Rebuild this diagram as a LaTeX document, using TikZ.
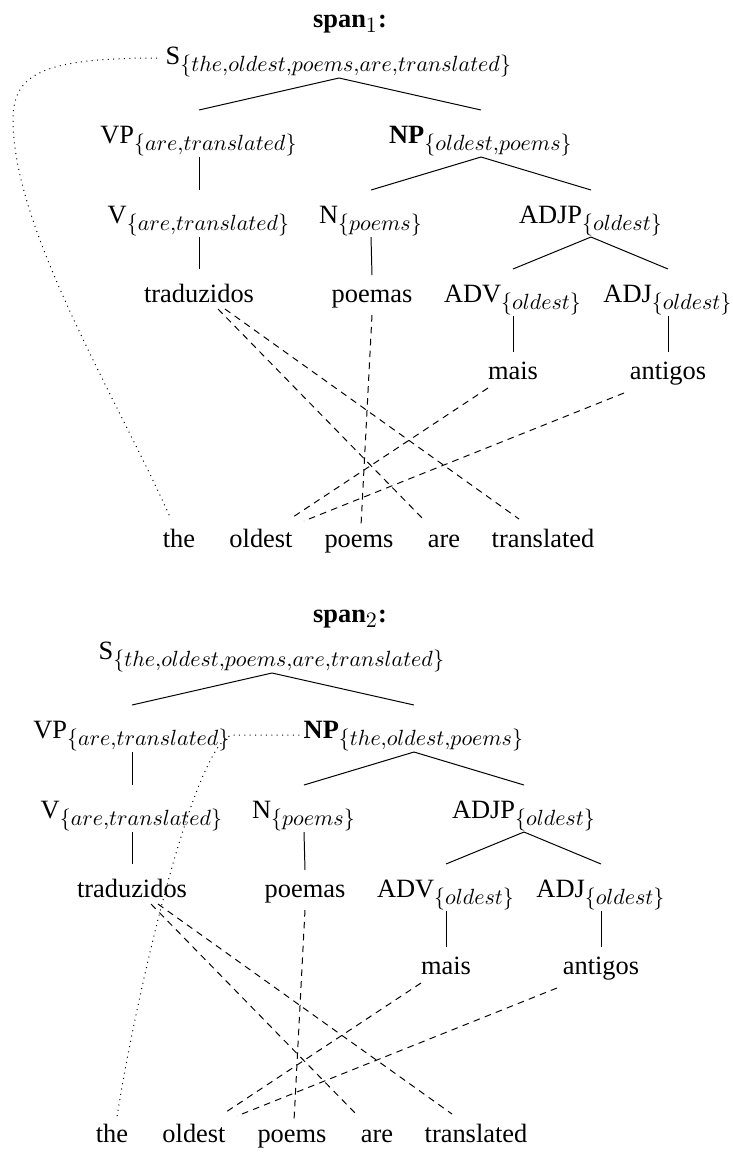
\documentclass[tikz,border=0pt]{standalone}
\usepackage[no-math]{fontspec}
\setmainfont{Liberation Serif}
\usetikzlibrary{calc}
\DeclareMathSizes{12}{12}{10}{7}

% one span tree: #1 = name suffix, #2 = yield of the NP node
\newcommand\treenodes[2]{%
  \node[lab] (S#1)       at (339,64)  {S$_{\{the,oldest,poems,are,translated\}}$};
  \node[lab] (VP#1)      at (199,143) {VP$_{\{are,translated\}}$};
  \node[lab] (NP#1)      at (481,143) {\textbf{NP}$_{\{#2\}}$};
  \node[lab] (V#1)       at (199,223) {V$_{\{are,translated\}}$};
  \node[lab] (N#1)       at (371,223) {N$_{\{poems\}}$};
  \node[lab] (ADJP#1)    at (591,223) {ADJP$_{\{oldest\}}$};
  \node[lab] (trad#1)    at (199,302) {traduzidos};
  \node[lab] (poemas#1)  at (372,302) {poemas};
  \node[lab] (ADV#1)     at (513,302) {ADV$_{\{oldest\}}$};
  \node[lab] (ADJ#1)     at (668,302) {ADJ$_{\{oldest\}}$};
  \node[lab] (mais#1)    at (513,379) {mais};
  \node[lab] (antigos#1) at (668,379) {antigos};
  \node[lab] (the#1)        at (179,547) {the};
  \node[lab] (oldest#1)     at (261,547) {oldest};
  \node[lab] (poems#1)      at (359,547) {poems};
  \node[lab] (are#1)        at (444,547) {are};
  \node[lab] (translated#1) at (543,547) {translated};
}

% parent-to-child branch; #3 = gap above the child's baseline
\newcommand\branch[3]{%
  \draw[tree] ($(#1.base)+(0,14)$) -- ($(#2.base)+(0,-#3)$);
}

% branches and word alignments of one tree
\newcommand\treeedges[1]{%
  \branch{S#1}{VP#1}{33}
  \branch{S#1}{NP#1}{33}
  \branch{VP#1}{V#1}{33}
  \branch{NP#1}{N#1}{33}
  \branch{NP#1}{ADJP#1}{33}
  \branch{V#1}{trad#1}{33}
  \branch{N#1}{poemas#1}{27}
  \branch{ADJP#1}{ADV#1}{33}
  \branch{ADJP#1}{ADJ#1}{33}
  \branch{ADV#1}{mais#1}{27}
  \branch{ADJ#1}{antigos#1}{27}
  \draw[align] ($(trad#1.base)+(19,7)$)     -- ($(are#1.base)+(-19,-26)$);
  \draw[align] ($(trad#1.base)+(26,7)$)     -- ($(translated#1.base)+(-24,-28)$);
  \draw[align] ($(poemas#1.base)+(0,13)$)   -- ($(poems#1.base)+(2,-21)$);
  \draw[align] ($(mais#1.base)+(-25,9)$)    -- ($(oldest#1.base)+(32,-30)$);
  \draw[align] ($(antigos#1.base)+(-44,14)$) -- ($(oldest#1.base)+(43,-26)$);
}

\begin{document}
\begin{tikzpicture}[x=0.4545pt,y=-0.4545pt,
    lab/.style={anchor=base,inner sep=0pt,font=\fontsize{12}{14}\selectfont},
    titlelab/.style={lab,font=\fontsize{12}{14}\selectfont\bfseries},
    tree/.style={line width=0.45pt},
    align/.style={line width=0.45pt,dash pattern=on 3pt off 2.4pt},
    spanlink/.style={line width=0.45pt,dotted}]
  \useasboundingbox (0,0) rectangle (733,1156);

  % first span
  \node[titlelab] (title1) at (350,27) {span$_1$:};
  \treenodes{a}{oldest,poems}
  \treeedges{a}
  \draw[spanlink] ($(Sa.base west)+(-8,-6)$)
      .. controls (40,58) and (13,75) .. (13,120)
      .. controls (13,230) and (118,400) .. ($(thea.base)+(-9,-30)$);

  % second span
  \node[titlelab] (title2) at (350,622) {span$_2$:};
  \begin{scope}[shift={(-67,595)}]
    \treenodes{b}{the,oldest,poems}
  \end{scope}
  \treeedges{b}
  \draw[spanlink] ($(NPb.base west)+(-4,-3)$) -- ($(VPb.base east)+(2,-3)$)
      .. controls (195,738) and (135,1000) .. ($(theb.base)+(5,-25)$);
\end{tikzpicture}
\end{document}
